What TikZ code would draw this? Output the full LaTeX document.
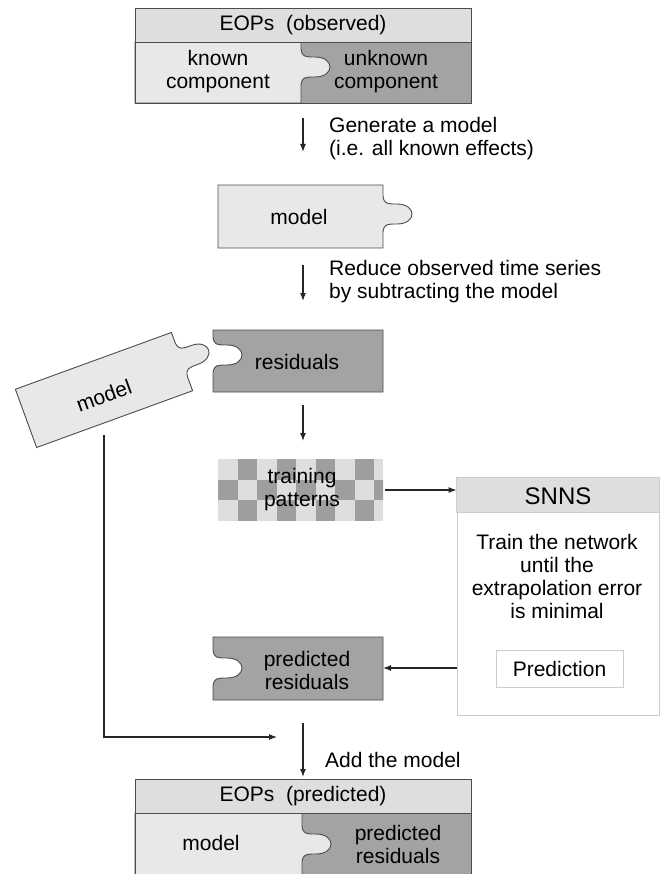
\documentclass[tikz,border=0pt]{standalone}
\usepackage{fontspec}
\setmainfont{Liberation Sans}
\usetikzlibrary{arrows.meta}

\definecolor{pieceLight}{gray}{0.91}
\definecolor{pieceDark}{gray}{0.64}
\definecolor{headGray}{gray}{0.87}
\definecolor{edgeGray}{gray}{0.30}
\definecolor{frameGray}{gray}{0.80}
\definecolor{checkLight}{gray}{0.87}
\definecolor{checkDark}{gray}{0.62}

% puzzle tab on a vertical edge, walking downwards, bulging to the right
\newcommand{\knob}{.. controls +(1,8) and +(-10,0) .. ++(14,8) .. controls +(20,0) and +(20,0) .. ++(0,20) .. controls +(-10,0) and +(1,-8) .. ++(-14,8)}

\tikzset{
  light piece/.style={fill=pieceLight, draw=edgeGray, line width=0.9pt},
  dark piece/.style={fill=pieceDark, draw=edgeGray, line width=0.9pt},
  header/.style={fill=headGray, draw=edgeGray, line width=0.9pt},
  outline/.style={draw=edgeGray, line width=0.9pt},
  flow/.style={-{Latex[length=8pt,width=6pt]}, line width=1.1pt, draw=black!85},
  caption/.style={anchor=west, align=left, inner sep=0pt}
}

\begin{document}
\begin{tikzpicture}[x=1pt, y=-1pt, font=\fontsize{21}{23}\selectfont]
\useasboundingbox (0,0) rectangle (661,874);

% observed EOPs
\fill[pieceDark] (135,42) rectangle (471,103);
\filldraw[light piece] (135,42) -- (301,42) -- (301,49) \knob -- (301,103) -- (135,103) -- cycle;
\draw[header] (135,8) rectangle (471,42);
\draw[outline] (135,42) rectangle (471,103);
\node (eopsobs) at (303,25) {EOPs\ \ (observed)};
\node[align=center] (known) at (218,72) {known\\component};
\node[align=center] (unknown) at (386,72) {unknown\\component};

\coordinate (gens) at (303,118);
\coordinate (gene) at (303,152);
\draw[flow] (gens) -- (gene);
\node[caption] (genlabel) at (329,139) {Generate a model\\(i.e. all known effects)};

% model
\filldraw[light piece] (218,185) -- (383,185) -- (383,196) \knob -- (383,248) -- (218,248) -- cycle;
\node (model) at (299,217) {model};

\coordinate (reds) at (303,265);
\coordinate (rede) at (303,301);
\draw[flow] (reds) -- (rede);
\node[caption] (reducelabel) at (329,282) {Reduce observed time series\\by subtracting the model};

% residuals and the model taken out
\filldraw[dark piece] (213,330) -- (213,337) \knob -- (213,392) -- (383,392) -- (383,330) -- cycle;
\node (residuals) at (297,362) {residuals};

\begin{scope}[shift={(104,390)}, rotate=20]
\filldraw[light piece] (-83,-31) -- (83,-31) -- (83,-20) \knob -- (83,31) -- (-83,31) -- cycle;
\node[rotate=20] (modelrot) at (-2,5) {model};
\end{scope}

\coordinate (ress) at (303,405);
\coordinate (rese) at (303,441);
\draw[flow] (ress) -- (rese);

% training patterns
\fill[checkLight] (218,459) rectangle (383,521);
\begin{scope}
\clip (218,459) rectangle (383,521);
\foreach \i in {0,...,8}
  \foreach \j in {0,1,2}
    {\ifodd\numexpr\i+\j\relax
       \fill[checkDark] ({218+19.5*\i},{459+20.67*\j}) rectangle ++(19.5,20.67);
     \fi}
\end{scope}
\node[align=center, minimum width=165pt, minimum height=62pt] (training) at (302,490) {training\\patterns};

% SNNS
\node[draw=frameGray, line width=0.9pt, minimum width=202pt, minimum height=237pt, inner sep=0pt] (snns) at (558,596.5) {};
\filldraw[fill=headGray, draw=frameGray, line width=0.9pt] (snns.north west) rectangle ([yshift=-35pt]snns.north east);
\node[font=\fontsize{24}{26}\selectfont] (snnshead) at (558,496) {SNNS};
\node[align=center] (snnstext) at (557,576) {Train the network\\until the\\extrapolation error\\is minimal};
\node[draw=frameGray, line width=0.8pt, minimum width=127pt, minimum height=37pt] (prediction) at (559.5,668.5) {Prediction};

\draw[flow] (training.east) -- (training.east -| snns.west);

% predicted residuals
\filldraw[dark piece] (213,637) -- (213,650) \knob -- (213,700) -- (383,700) -- (383,637) -- cycle;
\node[align=center] (predres) at (307,670) {predicted\\residuals};
\coordinate (predin) at (383,668);
\draw[flow] (snns.west |- predin) -- (predin);

% model goes back in
\coordinate (mrbot) at (104,435);
\coordinate (mrturn) at (104,737);
\coordinate (mrin) at (277,737);
\draw[flow] (mrbot) -- (mrturn) -- (mrin);

\coordinate (adds) at (303,723);
\coordinate (adde) at (303,777);
\draw[flow] (adds) -- (adde);
\node[caption] (addlabel) at (325,760) {Add the model};

% predicted EOPs
\fill[pieceDark] (135,813) rectangle (471,878);
\filldraw[light piece] (135,813) -- (302,813) -- (302,826) \knob -- (302,878) -- (135,878) -- cycle;
\draw[header] (135,779) rectangle (471,813);
\draw[outline] (135,813) rectangle (471,878);
\node (eopspred) at (303,796) {EOPs\ \ (predicted)};
\node (predmodel) at (211,843) {model};
\node[align=center] (predpart) at (398,844) {predicted\\residuals};
\end{tikzpicture}
\end{document}
